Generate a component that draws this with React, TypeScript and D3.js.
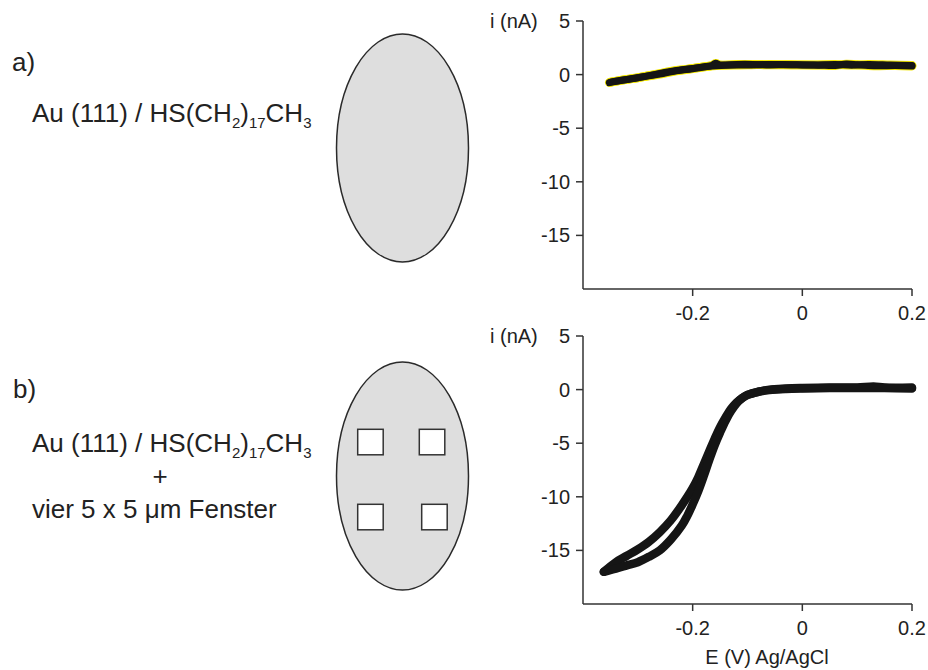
import React from "react";
import * as d3 from "d3";

// ---- data ----
const xTicks = [-0.2, 0, 0.2];
const xTickLabels = ["-0.2", "0", "0.2"];
const yTicks = [5, 0, -5, -10, -15];
const yTickLabels = ["5", "0", "-5", "-10", "-15"];

// panel a) – nearly flat current
const topFwdE = [-0.352, -0.34, -0.32, -0.3, -0.28, -0.26, -0.24, -0.22, -0.2, -0.18, -0.165, -0.158, -0.15, -0.12, -0.09, -0.06, -0.03, 0.0, 0.03, 0.06, 0.08, 0.1, 0.12, 0.14, 0.17, 0.2];
const topFwdI = [-0.75, -0.62, -0.45, -0.3, -0.1, 0.1, 0.3, 0.45, 0.58, 0.72, 0.85, 1.05, 0.9, 0.95, 0.95, 0.9, 0.92, 0.9, 0.88, 0.85, 0.98, 0.92, 0.85, 0.82, 0.85, 0.8];
const topRevE = [0.2, 0.16, 0.12, 0.09, 0.06, 0.02, -0.02, -0.06, -0.1, -0.14, -0.17, -0.2, -0.23, -0.26, -0.29, -0.32, -0.35];
const topRevI = [0.85, 0.9, 0.95, 0.88, 0.95, 0.9, 0.92, 0.95, 0.9, 0.88, 0.78, 0.55, 0.35, 0.05, -0.2, -0.45, -0.7];

// panel b) – sigmoidal CV with hysteresis loop
const botUpE = [-0.362, -0.34, -0.32, -0.3, -0.28, -0.26, -0.24, -0.22, -0.2, -0.19, -0.18, -0.17, -0.16, -0.15, -0.14, -0.13, -0.12, -0.11, -0.1, -0.08, -0.06, -0.03, 0.0, 0.05, 0.1, 0.13, 0.15, 0.2];
const botUpI = [-17.0, -16.1, -15.5, -14.9, -14.2, -13.3, -12.2, -10.8, -9.2, -8.2, -7.0, -5.8, -4.6, -3.5, -2.6, -1.8, -1.2, -0.8, -0.5, -0.2, 0.0, 0.1, 0.15, 0.2, 0.2, 0.3, 0.2, 0.2];
const botLowE = [-0.362, -0.34, -0.32, -0.3, -0.28, -0.26, -0.24, -0.22, -0.21, -0.2, -0.19, -0.18, -0.17, -0.16, -0.15, -0.14, -0.13, -0.12, -0.11, -0.1, -0.08, -0.06, -0.03, 0.0, 0.05, 0.1, 0.15, 0.2];
const botLowI = [-17.0, -16.7, -16.4, -16.1, -15.6, -15.0, -14.0, -12.7, -11.8, -10.7, -9.5, -8.1, -6.6, -5.2, -4.0, -2.9, -2.0, -1.3, -0.8, -0.5, -0.2, -0.05, 0.05, 0.1, 0.15, 0.15, 0.15, 0.1];

const xDomain = [-0.4, 0.2];
const yDomain = [-20, 5];

const FONT = "'Liberation Sans', Arial, Helvetica, sans-serif";
const AXIS = "#333";

function zip(es: number[], is: number[]): [number, number][] {
  return es.map((e, k) => [e, is[k]]);
}

function Panel({ top, series, yellow }: { top: number; series: [number, number][][]; yellow: boolean }) {
  const x = d3.scaleLinear().domain(xDomain).range([583, 912]);
  const y = d3.scaleLinear().domain(yDomain).range([top + 268, top]);
  const line = d3
    .line<[number, number]>()
    .x((d) => x(d[0]))
    .y((d) => y(d[1]))
    .curve(d3.curveCatmullRom);
  const x0 = x(xDomain[0]);
  const x1 = x(xDomain[1]);
  const yb = y(yDomain[0]);
  const yt = y(yDomain[1]);
  return (
    <g>
      <line x1={x0} x2={x0} y1={yt} y2={yb} stroke={AXIS} strokeWidth={1.5} />
      <line x1={x0} x2={x1} y1={yb} y2={yb} stroke={AXIS} strokeWidth={1.5} />
      {yTicks.map((t, k) => (
        <g key={"y" + k}>
          <line x1={x0 - 7} x2={x0} y1={y(t)} y2={y(t)} stroke={AXIS} strokeWidth={1.5} />
          <text x={x0 - 13} y={y(t) + 7} textAnchor="end" fontSize={20} fill="#222" fontFamily={FONT}>
            {yTickLabels[k]}
          </text>
        </g>
      ))}
      {xTicks.map((t, k) => (
        <g key={"x" + k}>
          <line x1={x(t)} x2={x(t)} y1={yb} y2={yb + 7} stroke={AXIS} strokeWidth={1.5} />
          <text x={x(t)} y={yb + 31} textAnchor="middle" fontSize={20} fill="#222" fontFamily={FONT}>
            {xTickLabels[k]}
          </text>
        </g>
      ))}
      <text x={490} y={yt + 6.5} fontSize={20} fill="#222" fontFamily={FONT}>
        i (nA)
      </text>
      {yellow &&
        series.map((s, k) => (
          <path key={"yl" + k} d={line(s) || ""} fill="none" stroke="#f2e600" strokeWidth={8.8} strokeLinecap="round" strokeLinejoin="round" />
        ))}
      {series.map((s, k) => (
        <path key={"bk" + k} d={line(s) || ""} fill="none" stroke="#151515" strokeWidth={yellow ? 7 : 8.5} strokeLinecap="round" strokeLinejoin="round" />
      ))}
    </g>
  );
}

function Formula({ x, y }: { x: number; y: number }) {
  return (
    <text x={x} y={y} fontSize={26} fill="#222" fontFamily={FONT}>
      Au (111) / HS(CH
      <tspan fontSize={15} dy={6}>2</tspan>
      <tspan dy={-6}>)</tspan>
      <tspan fontSize={15} dy={6}>17</tspan>
      <tspan dy={-6}>CH</tspan>
      <tspan fontSize={15} dy={6}>3</tspan>
    </text>
  );
}

export default function App() {
  const topSeries = [zip(topFwdE, topFwdI), zip(topRevE, topRevI)];
  const botSeries = [zip(botUpE, botUpI), zip(botLowE, botLowI)];
  const squares = [
    [357.7, 429.3],
    [419.3, 429.3],
    [357.7, 504.3],
    [421.7, 504.3],
  ];
  return (
    <svg width={928} height={670} style={{ position: "absolute", left: 0, top: 0, background: "#fff" }}>
      <rect x={0} y={0} width={928} height={670} fill="#fff" />
      <text x={12} y={71} fontSize={26} fill="#222" fontFamily={FONT}>a)</text>
      <Formula x={32} y={122} />
      <text x={13} y={398} fontSize={26} fill="#222" fontFamily={FONT}>b)</text>
      <Formula x={32} y={452} />
      <text x={160} y={485} fontSize={26} fill="#222" fontFamily={FONT} textAnchor="middle">+</text>
      <text x={32} y={518} fontSize={26} fill="#222" fontFamily={FONT}>vier 5 x 5 μm Fenster</text>

      <ellipse cx={402.5} cy={148} rx={66} ry={114} fill="#dedede" stroke="#2a2a2a" strokeWidth={1.5} />
      <ellipse cx={402.5} cy={476} rx={66} ry={114} fill="#dedede" stroke="#2a2a2a" strokeWidth={1.5} />
      {squares.map((s, k) => (
        <rect key={k} x={s[0]} y={s[1]} width={25.5} height={25.5} fill="#fff" stroke="#333" strokeWidth={1.5} />
      ))}

      <Panel top={21} series={topSeries} yellow={true} />
      <Panel top={336} series={botSeries} yellow={false} />
      <text x={767} y={664} fontSize={20} fill="#222" fontFamily={FONT} textAnchor="middle">
        E (V) Ag/AgCl
      </text>
    </svg>
  );
}
